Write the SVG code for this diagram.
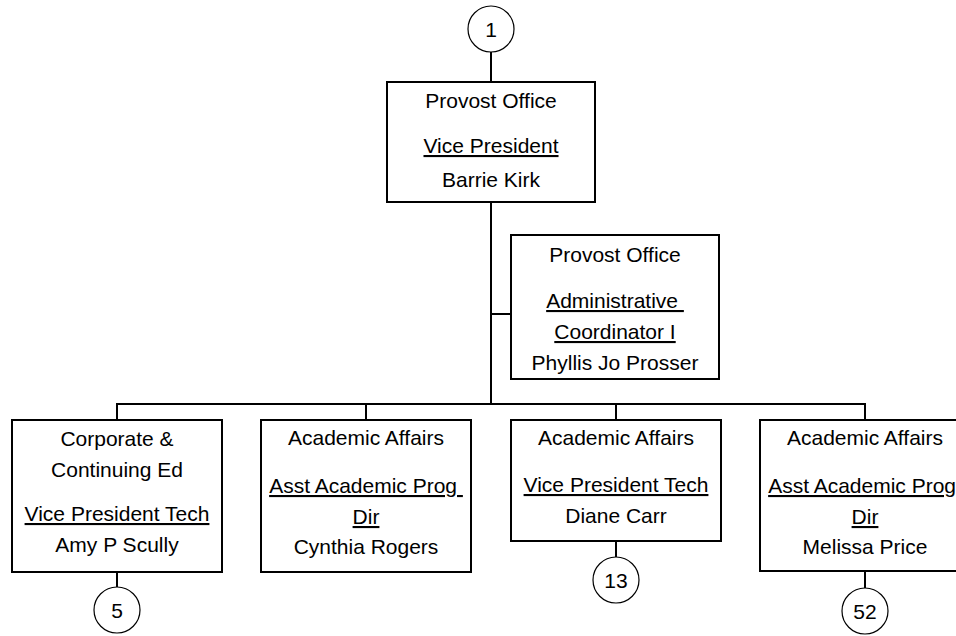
<svg xmlns="http://www.w3.org/2000/svg" width="956" height="636" viewBox="0 0 956 636">
<style>
.box{fill:#fff;stroke:#000;stroke-width:2}
.conn{stroke:#000;stroke-width:2;fill:none}
.circ{fill:#fff;stroke:#000;stroke-width:1.2}
text{font-family:"Liberation Sans",Arial,sans-serif;font-size:21px;fill:#000;text-anchor:middle}
.u{text-decoration:underline}
</style>
<rect width="956" height="636" fill="#fff"/>
<g id="connectors">
<line class="conn" x1="491" y1="52" x2="491" y2="82"/>
<line class="conn" x1="491" y1="202" x2="491" y2="404"/>
<line class="conn" x1="491" y1="314" x2="511" y2="314"/>
<line class="conn" x1="116" y1="404" x2="866" y2="404"/>
<line class="conn" x1="117" y1="403" x2="117" y2="420"/>
<line class="conn" x1="366" y1="403" x2="366" y2="420"/>
<line class="conn" x1="616" y1="403" x2="616" y2="420"/>
<line class="conn" x1="865" y1="403" x2="865" y2="420"/>
<line class="conn" x1="117" y1="572" x2="117" y2="587"/>
<line class="conn" x1="616" y1="541" x2="616" y2="557"/>
<line class="conn" x1="865" y1="571" x2="865" y2="588"/>
</g>
<g id="c1"><circle class="circ" cx="491" cy="29" r="23"/><text x="491" y="37">1</text></g>
<g id="n_barrie">
<rect class="box" x="387" y="82" width="208" height="120"/>
<text x="491" y="108">Provost Office</text>
<text x="491" y="153" class="u">Vice President</text>
<text x="491" y="187">Barrie Kirk</text>
</g>
<g id="n_phyllis">
<rect class="box" x="511" y="235" width="208" height="144"/>
<text x="615" y="262">Provost Office</text>
<text x="615" y="308" class="u" xml:space="preserve">Administrative </text>
<text x="615" y="339" class="u">Coordinator I</text>
<text x="615" y="370">Phyllis Jo Prosser</text>
</g>
<g id="n_amy">
<rect class="box" x="12" y="420" width="210" height="152"/>
<text x="117" y="446">Corporate &amp;</text>
<text x="117" y="477">Continuing Ed</text>
<text x="117" y="521" class="u">Vice President Tech</text>
<text x="117" y="552">Amy P Scully</text>
</g>
<g id="n_cynthia">
<rect class="box" x="261" y="420" width="210" height="152"/>
<text x="366" y="445">Academic Affairs</text>
<text x="366" y="493" class="u" xml:space="preserve">Asst Academic Prog </text>
<text x="366" y="524" class="u">Dir</text>
<text x="366" y="554">Cynthia Rogers</text>
</g>
<g id="n_diane">
<rect class="box" x="511" y="420" width="210" height="121"/>
<text x="616" y="445">Academic Affairs</text>
<text x="616" y="492" class="u">Vice President Tech</text>
<text x="616" y="523">Diane Carr</text>
</g>
<g id="n_melissa">
<rect class="box" x="760" y="420" width="210" height="151"/>
<text x="865" y="445">Academic Affairs</text>
<text x="865" y="493" class="u" xml:space="preserve">Asst Academic Prog </text>
<text x="865" y="524" class="u">Dir</text>
<text x="865" y="554">Melissa Price</text>
</g>
<g id="c5"><circle class="circ" cx="117" cy="610" r="23"/><text x="117" y="618">5</text></g>
<g id="c13"><circle class="circ" cx="616" cy="580" r="23"/><text x="616" y="588">13</text></g>
<g id="c52"><circle class="circ" cx="865" cy="611" r="23"/><text x="865" y="619">52</text></g>
</svg>
